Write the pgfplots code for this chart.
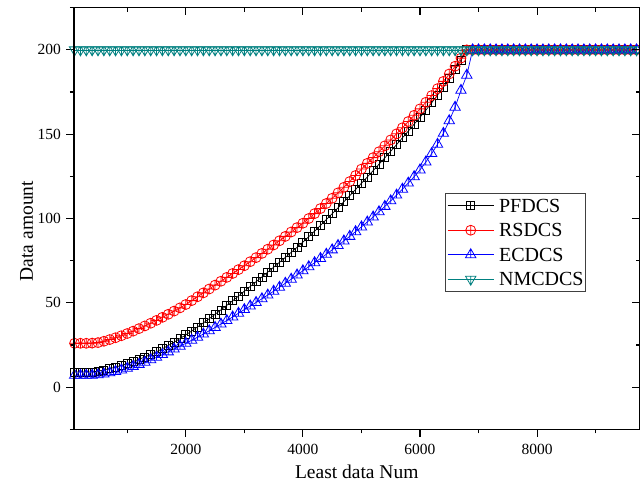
\documentclass[border=0pt]{standalone}
\usepackage{fontspec}
\setmainfont{Liberation Serif}
\usepackage{pgfplots}
\usepackage{pgfplotstable}
\pgfplotsset{compat=1.18}
\definecolor{tealc}{RGB}{0,128,128}
\definecolor{redc}{RGB}{255,0,0}
\definecolor{bluec}{RGB}{0,0,255}

\pgfdeclareplotmark{sqbar}{%
  \pgfpathrectangle{\pgfpoint{-\pgfplotmarksize}{-\pgfplotmarksize}}{\pgfpoint{2\pgfplotmarksize}{2\pgfplotmarksize}}%
  \pgfpathmoveto{\pgfpoint{0pt}{-\pgfplotmarksize}}%
  \pgfpathlineto{\pgfpoint{0pt}{\pgfplotmarksize}}%
  \pgfusepathqstroke}
\pgfdeclareplotmark{tribar}{%
  \pgfpathmoveto{\pgfpointpolar{90}{\pgfplotmarksize}}%
  \pgfpathlineto{\pgfpointpolar{210}{\pgfplotmarksize}}%
  \pgfpathlineto{\pgfpointpolar{330}{\pgfplotmarksize}}%
  \pgfpathclose
  \pgfpathmoveto{\pgfpoint{0pt}{-0.5\pgfplotmarksize}}%
  \pgfpathlineto{\pgfpoint{0pt}{\pgfplotmarksize}}%
  \pgfusepathqstroke}
\pgfdeclareplotmark{dtribar}{%
  \pgfpathmoveto{\pgfpointpolar{270}{\pgfplotmarksize}}%
  \pgfpathlineto{\pgfpointpolar{30}{\pgfplotmarksize}}%
  \pgfpathlineto{\pgfpointpolar{150}{\pgfplotmarksize}}%
  \pgfpathclose
  \pgfpathmoveto{\pgfpoint{0pt}{0.5\pgfplotmarksize}}%
  \pgfpathlineto{\pgfpoint{0pt}{-\pgfplotmarksize}}%
  \pgfusepathqstroke}

\pgfplotstableread{
x pf rs ec nm
100 9 26 7 200
200 9 26 7 200
300 9 26 7 200
400 9 26.1 7 200
500 9.5 26.4 7.3 200
600 10.2 27.2 7.8 200
700 11.0 28.2 8.5 200
800 11.9 29.3 9.3 200
900 12.9 30.5 10.2 200
1000 14.0 31.8 11.2 200
1100 15.2 33.2 12.3 200
1200 16.5 34.7 13.5 200
1300 17.9 36.3 14.8 200
1400 19.4 37.9 16.2 200
1500 21.0 39.6 17.7 200
1600 22.8 41.4 19.3 200
1700 24.7 43.2 20.9 200
1800 26.7 45.1 22.6 200
1900 28.8 47.0 24.3 200
2000 31.0 49.0 26.0 200
2100 33.3 51.3 27.8 200
2200 35.7 53.6 29.6 200
2300 38.1 55.9 31.5 200
2400 40.6 58.2 33.4 200
2500 43.2 60.5 35.4 200
2600 45.8 62.8 37.4 200
2700 48.5 65.1 39.5 200
2800 51.2 67.4 41.6 200
2900 54.0 69.7 43.8 200
3000 56.9 72.0 46.0 200
3100 59.7 74.4 48.1 200
3200 62.5 76.8 50.2 200
3300 65.3 79.3 52.4 200
3400 68.2 81.8 54.6 200
3500 71.1 84.3 56.9 200
3600 74.0 86.8 59.2 200
3700 76.9 89.4 61.6 200
3800 79.9 92.0 64.0 200
3900 82.9 94.6 66.5 200
4000 86.0 97.2 69.0 200
4100 89.2 100.0 71.4 200
4200 92.5 102.9 73.8 200
4300 95.9 105.9 76.3 200
4400 99.3 108.9 78.8 200
4500 102.8 112.0 81.4 200
4600 106.3 115.2 84.0 200
4700 109.9 118.5 86.7 200
4800 113.5 121.9 89.4 200
4900 117.2 125.5 92.2 200
5000 120.9 129.3 95.0 200
5100 124.6 132.7 97.9 200
5200 128.4 136.1 100.9 200
5300 132.2 139.6 104.0 200
5400 136.0 143.1 107.2 200
5500 139.9 146.6 110.5 200
5600 143.8 150.2 113.9 200
5700 147.8 153.8 117.4 200
5800 151.8 157.5 121.0 200
5900 155.9 161.2 124.8 200
6000 160.0 165.0 128.8 200
6100 164.2 168.9 133.5 200
6200 168.6 172.9 138.5 200
6300 173.2 177.0 144.0 200
6400 178.0 181.3 150.5 200
6500 183.0 185.7 158.0 200
6600 188.3 190.3 166.0 200
6700 193.9 195.1 176.0 200
6800 200 200 185.0 200
6900 200 200 200 200
7000 200 200 200 200
7100 200 200 200 200
7200 200 200 200 200
7300 200 200 200 200
7400 200 200 200 200
7500 200 200 200 200
7600 200 200 200 200
7700 200 200 200 200
7800 200 200 200 200
7900 200 200 200 200
8000 200 200 200 200
8100 200 200 200 200
8200 200 200 200 200
8300 200 200 200 200
8400 200 200 200 200
8500 200 200 200 200
8600 200 200 200 200
8700 200 200 200 200
8800 200 200 200 200
8900 200 200 200 200
9000 200 200 200 200
9100 200 200 200 200
9200 200 200 200 200
9300 200 200 200 200
9400 200 200 200 200
9500 200 200 200 200
9600 200 200 200 200
9700 200 200 200 200
}\datatable

\begin{document}
\begin{tikzpicture}
\pgfplotsset{
  commonaxis/.style={
    scale only axis, width=565.5pt, height=421.6pt,
    xmin=90, xmax=9750, ymin=-25, ymax=225,
    xtick={2000,4000,6000,8000}, minor xtick={1000,3000,5000,7000,9000},
    ytick={0,50,100,150,200}, minor ytick={-25,25,75,125,175,225},
    major tick length=7.5pt, minor tick length=4pt,
    every tick/.style={black, line width=1.1pt},
    axis line style={black, line width=1.3pt},
  }
}
\begin{axis}[commonaxis,
  xtick pos=left, ytick pos=left, tick align=outside,
  /pgf/number format/assume math mode=true,
  /pgf/number format/1000 sep={},
  scaled x ticks=false,
  tick label style={font=\fontsize{15.5}{18}\selectfont},
  xticklabel style={inner sep=0pt, anchor=north, yshift=-7.5pt},
  yticklabel style={inner sep=0pt, anchor=east, xshift=-5.5pt},
  xlabel={Least data Num}, ylabel={Data amount},
  label style={font=\fontsize{19.5}{22}\selectfont},
  xlabel style={at={(axis description cs:0.5,-0.1162)}, anchor=base, inner sep=0pt},
  ylabel style={at={(axis description cs:-0.072,0.47)}, anchor=south, inner sep=0pt},
  clip=false,
  legend cell align=left,
  legend style={at={(axis description cs:0.656,0.5598)}, anchor=north west,
    draw=black!75, line width=0.8pt, font=\fontsize{20}{22}\selectfont,
    inner xsep=2pt, inner ysep=5.4pt, row sep=11.2pt,
    nodes={inner sep=0pt, text height=13.3pt, text depth=0pt},
    /tikz/every odd column/.append style={column sep=5pt}},
  legend image code/.code={\draw[mark repeat=2,mark phase=2,#1] plot coordinates {(0pt,0pt) (23pt,0pt) (46pt,0pt)};},
]
\addplot[black, line width=0.7pt, mark=sqbar, mark size=4pt, mark options={solid, line width=0.8pt}] table[x=x,y=pf]{\datatable};
\addlegendentry{PFDCS}
\addplot[redc, line width=0.7pt, mark=oplus, mark size=5pt, mark options={solid, line width=0.8pt}] table[x=x,y=rs]{\datatable};
\addlegendentry{RSDCS}
\addplot[bluec, line width=0.7pt, mark=tribar, mark size=6pt, mark options={solid, line width=0.8pt}] table[x=x,y=ec]{\datatable};
\addlegendentry{ECDCS}
\addplot[tealc, line width=0.7pt, mark=dtribar, mark size=6pt, mark options={solid, line width=0.8pt}] table[x=x,y=nm]{\datatable};
\addlegendentry{NMCDCS}
\end{axis}
\begin{axis}[commonaxis,
  xtick pos=right, ytick pos=right, tick align=inside,
  xticklabels={}, yticklabels={},
]
\addplot[draw=none] coordinates {(1000,0)};
\end{axis}
\pgfresetboundingbox
\path (-74pt,-63.7pt) rectangle (566pt,429.3pt);
\end{tikzpicture}
\end{document}
